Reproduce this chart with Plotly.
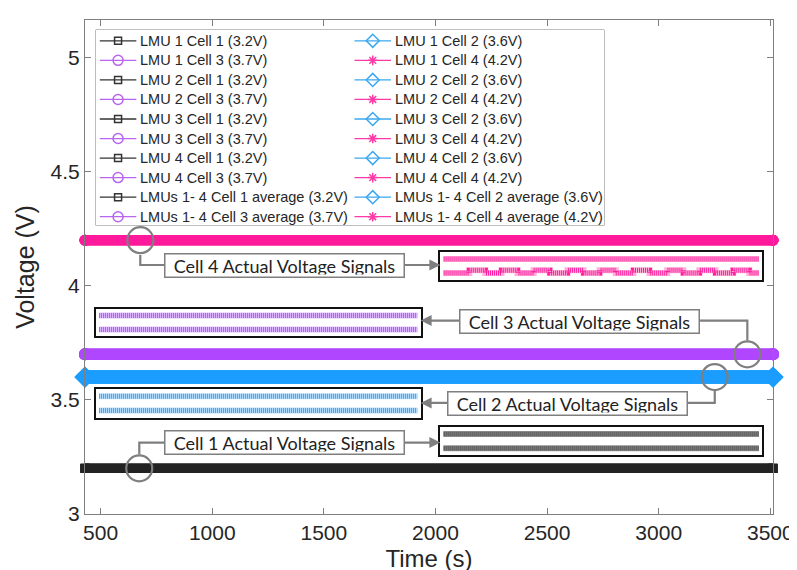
import plotly.graph_objects as go

# ---------------- data ----------------
lmu_labels = ["LMU 1", "LMU 2", "LMU 3", "LMU 4"]
avg_label = "LMUs 1- 4"
cell_names = ["Cell 1", "Cell 2", "Cell 3", "Cell 4"]
cell_voltages = [3.2, 3.6, 3.7, 4.2]          # V, each LMU and the average
time_span = [430, 3512]                       # s, first / last sample

# zoomed "actual voltage signal" insets (relative levels, V)
zoom_time = [1, 99]
zoom_hi = [3.2015, 3.6015, 3.7015, 4.2015]
zoom_lo = [3.1985, 3.5985, 3.6985, 4.1985]
cell4_step_starts = [9, 19, 29, 39.5, 49.5, 60, 70.5, 80.5, 91]  # raised steps of cell 4 lower trace
cell4_step_width = 5
cell4_step_height = 0.0006

# annotation positions (data coordinates of the highlighted points)
circle_times = [673, 3251, 3397, 678]

x_ticks = [500, 1000, 1500, 2000, 2500, 3000, 3500]
y_ticks = [3, 3.5, 4, 4.5, 5]

# ---------------- style ----------------
W, H = 797, 570
ML, MR, MT, MB = 77, 23, 11, 61
PW, PH = W - ML - MR, H - MT - MB

cell_colors = ["#232323", "#1a9dff", "#b046ff", "#ff1a9c"]
legend_colors = ["#333333", "#3aa8f0", "#b866f0", "#ff3aa6"]
legend_symbols = ["square-open", "diamond-open", "circle-open", "asterisk-open"]
legend_msize = [7, 10, 10, 8]
plot_symbols = ["square", "diamond", "circle", "circle"]
plot_widths = [9, 13, 11, 10]
plot_msize = [9, 16, 12, 11]
inset_dark = ["#333333", "#2ea3ff", "#b452ff", "#ff1f9e"]
inset_light = ["#a8a8a8", "#bfe3ff", "#e2c0ff", "#ffb0da"]
GRAY = "#7f7f7f"
FONT = "Liberation Sans"

# legend box geometry (pixels)
LEG_X0, LEG_X1, LEG_Y0, LEG_Y1 = 88, 603, 21, 218
LEG_ROW0, LEG_ROW_STEP = 11, 19.7
LEG_COL_X = [4, 262]       # sample line start, relative to legend left
LEG_SAMPLE_W = 37
LEG_TEXT_DX = 39


def px(x):
    return (x - ML) / PW


def py(y):
    return (MT + PH - y) / PH


fig = go.Figure()

# the plotted (overlapping) voltage traces
for lmu in lmu_labels + [avg_label]:
    for ci in [0, 2, 1, 3]:
        fig.add_trace(go.Scatter(
            x=time_span, y=[cell_voltages[ci]] * len(time_span),
            mode="lines+markers", showlegend=False, cliponaxis=False,
            name=f"{lmu} {cell_names[ci]}",
            line=dict(color=cell_colors[ci], width=plot_widths[ci]),
            marker=dict(symbol=plot_symbols[ci], size=plot_msize[ci],
                        color=cell_colors[ci], line=dict(width=0)),
            hoverinfo="skip",
        ))

# ---------------- insets ----------------
inset_boxes = {  # cell index -> pixel box (x0, x1, y0, y1)
    3: (437, 763, 245, 273),
    2: (88, 417, 302, 330),
    1: (88, 417, 383, 412),
    0: (437, 763, 421, 450),
}
axis_layout = {}
for k, (ci, (x0, x1, y0, y1)) in enumerate(inset_boxes.items()):
    n = k + 2
    xa, ya = f"x{n}", f"y{n}"
    axis_layout[f"xaxis{n}"] = dict(domain=[px(x0), px(x1)], anchor=ya, range=[0, 100],
                                    showline=True, mirror=True, linecolor="#111111", linewidth=2,
                                    showticklabels=False, ticks="", showgrid=False, zeroline=False,
                                    fixedrange=True)
    axis_layout[f"yaxis{n}"] = dict(domain=[py(y1), py(y0)], anchor=xa,
                                    range=[zoom_lo[ci] - 0.0015, zoom_hi[ci] + 0.0015],
                                    showline=True, mirror=True, linecolor="#111111", linewidth=2,
                                    showticklabels=False, ticks="", showgrid=False, zeroline=False,
                                    fixedrange=True)
    lo_t, lo_v = list(zoom_time), [zoom_lo[ci]] * len(zoom_time)
    if ci == 3:
        lo_t, lo_v = [zoom_time[0]], [zoom_lo[ci]]
        for s in cell4_step_starts:
            e = s + cell4_step_width
            lo_t += [s, s, e, e]
            lo_v += [zoom_lo[ci], zoom_lo[ci] + cell4_step_height,
                     zoom_lo[ci] + cell4_step_height, zoom_lo[ci]]
        lo_t.append(zoom_time[-1])
        lo_v.append(zoom_lo[ci])
    for tt, vv in [(list(zoom_time), [zoom_hi[ci]] * len(zoom_time)), (lo_t, lo_v)]:
        fig.add_trace(go.Scatter(x=tt, y=vv, xaxis=xa, yaxis=ya, mode="lines",
                                 showlegend=False, hoverinfo="skip",
                                 line=dict(color=inset_light[ci], width=6)))
        fig.add_trace(go.Scatter(x=tt, y=vv, xaxis=xa, yaxis=ya, mode="lines",
                                 showlegend=False, hoverinfo="skip",
                                 line=dict(color=inset_dark[ci], width=5, dash="1px,1px")))

# ---------------- legend (drawn as a box like the original) ----------------
annotations = []
legend_w = LEG_X1 - LEG_X0
legend_h = LEG_Y1 - LEG_Y0
axis_layout["xaxis6"] = dict(domain=[px(LEG_X0), px(LEG_X1)], anchor="y6", range=[0, legend_w],
                             visible=False, fixedrange=True)
axis_layout["yaxis6"] = dict(domain=[py(LEG_Y1), py(LEG_Y0)], anchor="x6", range=[legend_h, 0],
                             visible=False, fixedrange=True)
k = 0
for lmu in lmu_labels + [avg_label]:
    for ci, cname in enumerate(cell_names):
        if lmu == avg_label:
            name = f"{avg_label} {cname} average ({cell_voltages[ci]}V)"
        else:
            name = f"{lmu} {cname} ({cell_voltages[ci]}V)"
        row, col = divmod(k, 2)
        ry = LEG_ROW0 + LEG_ROW_STEP * row
        sx = LEG_COL_X[col]
        fig.add_trace(go.Scatter(x=[sx, sx + LEG_SAMPLE_W], y=[ry, ry], xaxis="x6", yaxis="y6",
                                 mode="lines", showlegend=False, hoverinfo="skip",
                                 line=dict(color=legend_colors[ci], width=1.3)))
        fig.add_trace(go.Scatter(x=[sx + LEG_SAMPLE_W / 2], y=[ry], xaxis="x6", yaxis="y6",
                                 mode="markers", showlegend=False, hoverinfo="skip", name=name,
                                 marker=dict(symbol=legend_symbols[ci], size=legend_msize[ci],
                                             color=legend_colors[ci],
                                             line=dict(color=legend_colors[ci], width=1.5))))
        annotations.append(dict(x=sx + LEG_TEXT_DX, y=ry, xref="x6", yref="y6", text=name,
                                showarrow=False, xanchor="left", yanchor="middle",
                                font=dict(family=FONT, size=14.5, color="#262626")))
        k += 1

# ---------------- callouts ----------------
shapes = [dict(type="rect", xref="paper", yref="paper", layer="below",
               x0=px(LEG_X0), x1=px(LEG_X1), y0=py(LEG_Y1), y1=py(LEG_Y0),
               line=dict(color="#8a8a8a", width=1), fillcolor="white")]
for ci in range(4):
    shapes.append(dict(type="circle", xref="x", yref="y", xsizemode="pixel", ysizemode="pixel",
                       xanchor=circle_times[ci], yanchor=cell_voltages[ci],
                       x0=-13, x1=13, y0=-13, y1=13,
                       line=dict(color=GRAY, width=2.2), fillcolor="rgba(0,0,0,0)"))

leader_paths = [
    [(132, 449), (132, 437), (159, 437)],      # cell 1
    [(686, 397), (715, 397), (715, 384)],      # cell 2
    [(698, 314), (748, 314), (748, 334)],      # cell 3
    [(133, 248), (133, 258), (158, 258)],      # cell 4
]
for pts in leader_paths:
    d = "M " + " L ".join(f"{px(x):.5f},{py(y):.5f}" for x, y in pts)
    shapes.append(dict(type="path", xref="paper", yref="paper", path=d,
                       line=dict(color=GRAY, width=2.2)))

arrows = [  # (tail x, head x, y)
    (400, 437, 437),
    (446, 417, 397),
    (457, 417, 314),
    (400, 437, 258),
]
for tx, hx, yy in arrows:
    annotations.append(dict(x=px(hx), y=py(yy), xref="paper", yref="paper",
                            ax=tx - hx, ay=0, text="", showarrow=True,
                            arrowhead=2, arrowsize=1, arrowwidth=2.2, arrowcolor=GRAY,
                            standoff=0))

callout_boxes = [  # center x, center y in pixels
    (279.5, 437),
    (566, 397.5),
    (577.5, 315),
    (279, 258.5),
]
for ci, (cx, cy) in enumerate(callout_boxes):
    annotations.append(dict(x=px(cx), y=py(cy), xref="paper", yref="paper",
                            text=f"{cell_names[ci]} Actual Voltage Signals", showarrow=False,
                            font=dict(family="Lato", size=18, color="#222222"),
                            bgcolor="white", bordercolor=GRAY, borderwidth=1.5, borderpad=2,
                            width=234, height=18, xanchor="center", yanchor="middle"))

fig.update_layout(
    width=W, height=H,
    margin=dict(l=ML, r=MR, t=MT, b=MB),
    paper_bgcolor="white", plot_bgcolor="white",
    font=dict(family=FONT, color="#262626"),
    showlegend=False,
    xaxis=dict(range=[430, 3512], tickvals=x_ticks, ticks="inside", ticklen=6,
               tickcolor=GRAY, showline=True, linecolor=GRAY, linewidth=1, mirror="ticks",
               showgrid=False, zeroline=False, tickfont=dict(size=21, family=FONT),
               title=dict(text="Time (s)", font=dict(size=24, family=FONT), standoff=6)),
    yaxis=dict(range=[3.0, 5.165], tickvals=y_ticks, ticktext=["3", "3.5", "4", "4.5", "5"],
               ticks="inside", ticklen=6,
               tickcolor=GRAY, showline=True, linecolor=GRAY, linewidth=1, mirror="ticks",
               showgrid=False, zeroline=False, tickfont=dict(size=21, family=FONT),
               title=dict(text="Voltage (V)", font=dict(size=25, family=FONT), standoff=8)),
    shapes=shapes,
    annotations=annotations,
    **axis_layout,
)

fig.write_html("out.html")
